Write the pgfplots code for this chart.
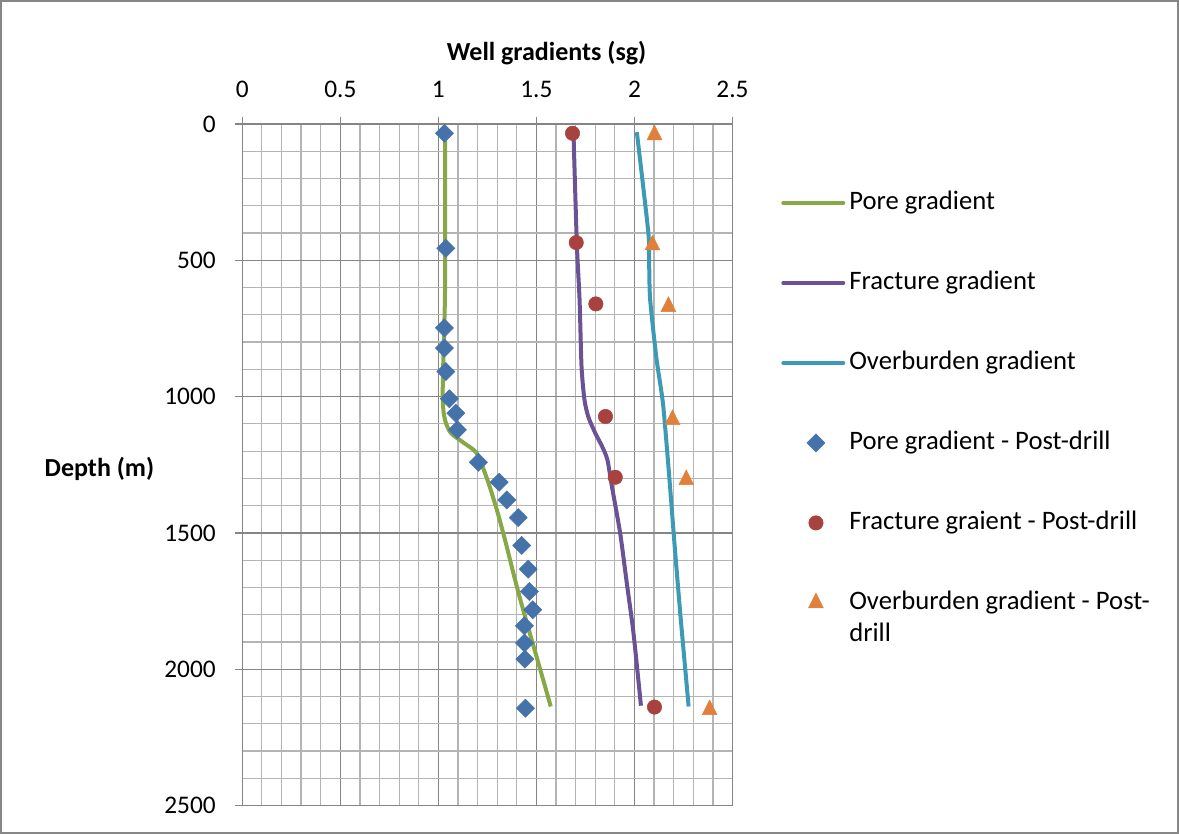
\documentclass[border=0pt]{standalone}
\usepackage{pgfplots}
\pgfplotsset{compat=1.18}
\usepackage{fontspec}
\setmainfont{Carlito}
\definecolor{cpore}{HTML}{86A846}
\definecolor{cfrac}{HTML}{6B5294}
\definecolor{cover}{HTML}{3D9AB4}
\definecolor{cdia}{HTML}{4672AA}
\definecolor{ccirc}{HTML}{A8423F}
\definecolor{ctri}{HTML}{E0803A}
\definecolor{cgridmaj}{HTML}{858585}
\definecolor{cgridmin}{HTML}{B4B4B4}
\pgfplotsset{
  lineleg/.style={legend image code/.code={\draw[##1, line cap=round] (1.5pt,0pt) -- (46.5pt,0pt);}},
  markleg/.style={legend image code/.code={\draw[mark repeat=2,mark phase=2,##1] plot coordinates {(0pt,0pt) (26pt,0pt) (52pt,0pt)};}},
}
\begin{document}
\begin{tikzpicture}
\useasboundingbox (0,0) rectangle (884.25pt,625.5pt);
\draw[draw=black!47, line width=1.5pt] (0.75pt,0.75pt) rectangle (883.5pt,624.75pt);
\begin{axis}[
  at={(181.7pt,21.4pt)}, anchor=south west,
  scale only axis, width=367.7pt, height=511.1pt,
  xmin=0, xmax=2.5, ymin=0, ymax=2500, y dir=reverse,
  xtick={0,0.5,1,1.5,2,2.5}, ytick={0,500,1000,1500,2000,2500},
  minor x tick num=4, minor y tick num=4,
  grid=both,
  major grid style={draw=cgridmaj, line width=1pt},
  minor grid style={draw=cgridmin, line width=0.9pt},
  axis line style={draw=cgridmaj, line width=1pt},
  major tick style={draw=cgridmaj, line width=1pt},
  minor tick length=0pt,
  tick align=outside, major tick length=5.6pt,
  xtick pos=upper, xticklabel pos=upper, ytick pos=left,
  /pgf/number format/assume math mode=true,
  /pgf/number format/1000 sep={},
  xticklabel style={font=\fontsize{19}{23}\selectfont, anchor=base, inner sep=0pt, yshift=13.9pt},
  yticklabel style={font=\fontsize{19}{23}\selectfont, anchor=east, inner xsep=0pt, xshift=-14.1pt},
  xlabel={Well gradients (sg)},
  every axis x label/.style={at={(axis description cs:0.6206,1.0939)}, anchor=base, font=\fontsize{19.5}{23}\selectfont\bfseries},
  ylabel={Depth (m)},
  every axis y label/.style={at={(axis description cs:-0.4127,0.4825)}, anchor=base west, font=\fontsize{19.5}{23}\selectfont\bfseries},
  legend cell align=left,
  legend style={at={(axis description cs:1.0989,0.9061)}, anchor=north west, draw=none, fill=none,
    font=\fontsize{20}{24}\selectfont, inner sep=0pt, row sep=38pt,
    nodes={inner sep=1pt, text height=15pt, text depth=5pt},
    /tikz/every odd column/.append style={column sep=2pt}},
]
\addplot[cpore, line width=3pt, smooth, tension=0.4, lineleg] coordinates {
(1.034,34) (1.034,300) (1.034,600) (1.030,750) (1.024,900) (1.022,1000) (1.027,1060) (1.040,1100) (1.065,1135) (1.13,1170) (1.196,1208) (1.250,1305) (1.300,1420) (1.345,1540) (1.400,1697) (1.455,1840) (1.515,1990) (1.573,2137)
};
\addlegendentry{Pore gradient}
\addplot[cfrac, line width=3pt, smooth, tension=0.4, lineleg] coordinates {
(1.689,34) (1.706,438) (1.720,645) (1.730,890) (1.745,1012) (1.765,1075) (1.800,1134) (1.835,1183) (1.862,1232) (1.885,1330) (1.927,1501) (1.961,1685) (1.995,1868) (2.033,2134)
};
\addlegendentry{Fracture gradient}
\addplot[cover, line width=3pt, smooth, tension=0.4, lineleg] coordinates {
(2.012,30) (2.071,401) (2.075,523) (2.080,645) (2.112,860) (2.146,1030) (2.178,1300) (2.204,1540) (2.234,1800) (2.259,2000) (2.276,2137)
};
\addlegendentry{Overburden gradient}
\addplot[only marks, mark=square*, mark size=4.8pt, mark options={rotate=45, draw=cdia, fill=cdia}, markleg] coordinates {
(1.031,34) (1.038,456) (1.031,748) (1.031,822) (1.038,908) (1.056,1008) (1.089,1061) (1.097,1122) (1.204,1241) (1.310,1314) (1.349,1379) (1.407,1444) (1.425,1546) (1.458,1633) (1.464,1715) (1.481,1782) (1.439,1841) (1.439,1904) (1.441,1963) (1.444,2143)
};
\addlegendentry{Pore gradient - Post-drill}
\addplot[only marks, mark=*, mark size=5.4pt, mark options={draw=ccirc, fill=ccirc}, markleg] coordinates {
(1.684,34) (1.703,435) (1.803,660) (1.852,1073) (1.902,1296) (2.102,2139)
};
\addlegendentry{Fracture graient - Post-drill}
\addplot[only marks, mark=triangle*, mark size=6.4pt, mark options={draw=ctri, fill=ctri, yscale=1.15}, markleg] coordinates {
(2.102,40) (2.092,444) (2.173,670) (2.194,1085) (2.264,1305) (2.383,2149)
};
\addlegendentry{\begin{tabular}[t]{@{}l@{}}Overburden gradient - Post-\\drill\end{tabular}}
\end{axis}
\end{tikzpicture}
\end{document}
